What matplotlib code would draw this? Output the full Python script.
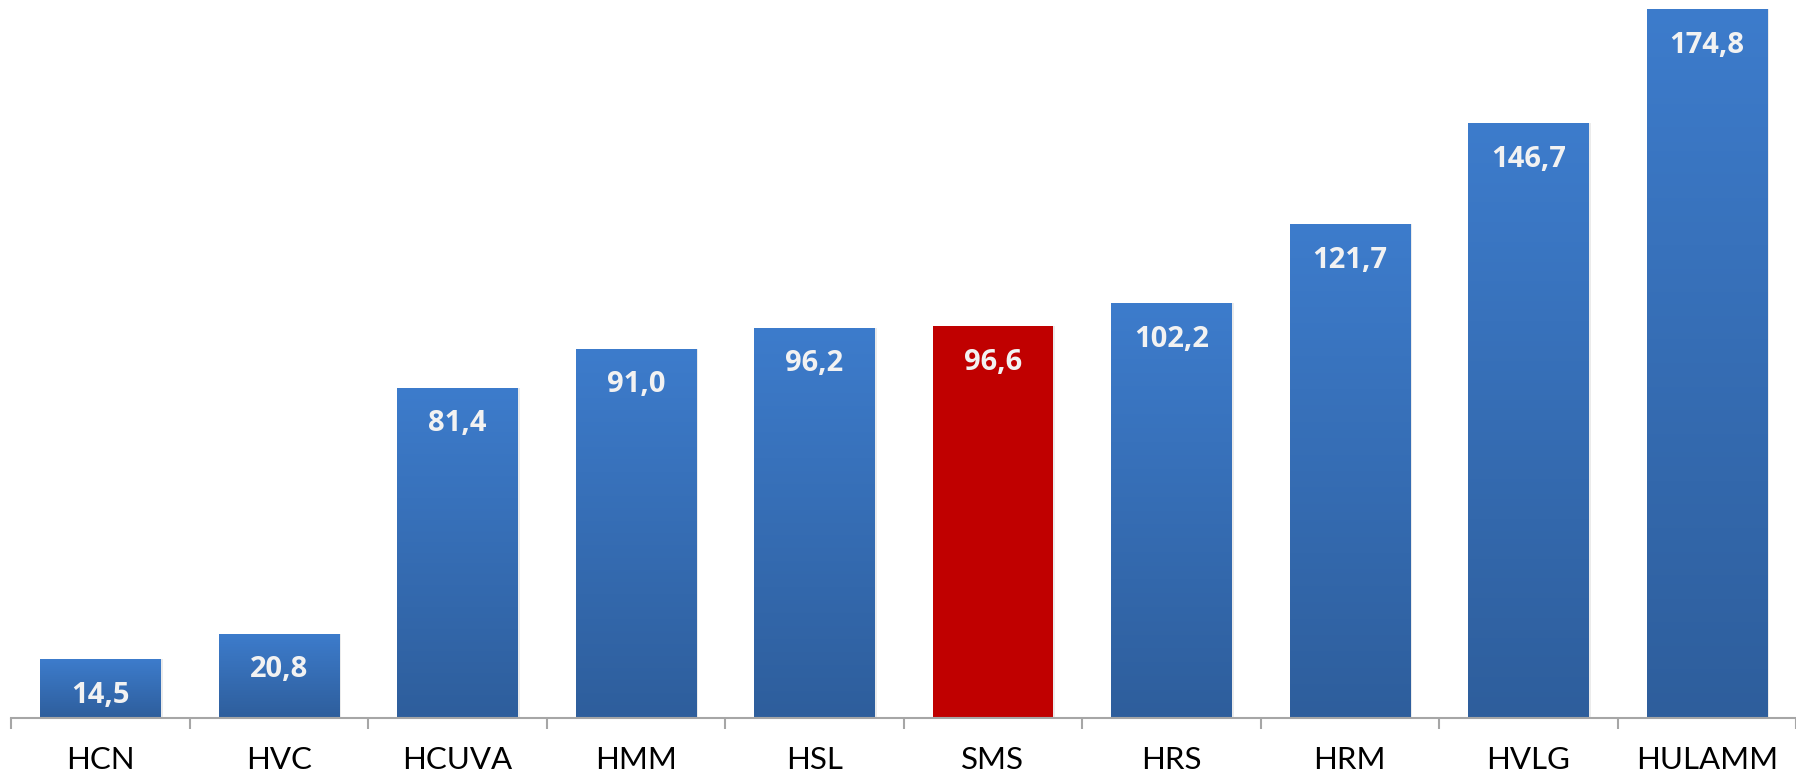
import numpy as np
import matplotlib.pyplot as plt
from matplotlib.colors import LinearSegmentedColormap

categories = ["HCN", "HVC", "HCUVA", "HMM", "HSL", "SMS", "HRS", "HRM", "HVLG", "HULAMM"]
values = [14.5, 20.8, 81.4, 91.0, 96.2, 96.6, 102.2, 121.7, 146.7, 174.8]
highlight = "SMS"

plt.rcParams['font.family'] = ['Lato', 'DejaVu Sans']

fig = plt.figure(figsize=(17.96, 7.79), dpi=100)
ax = fig.add_axes([11 / 1796, 61 / 779, 1 - 11 / 1796, 1 - 61 / 779])

x = np.arange(len(categories))
bar_w = 0.675
bars = ax.bar(x, values, width=bar_w, color="none", edgecolor="none", zorder=2)

ymax = 177.0
ax.set_xlim(-0.5, len(categories) - 0.5)
ax.set_ylim(0, ymax)

blue_grad = LinearSegmentedColormap.from_list("bluegrad", ["#2E5E9C", "#3D7CCC"])
grad = np.linspace(0, 1, 256).reshape(-1, 1)

for rect, cat, val in zip(bars, categories, values):
    x0 = rect.get_x()
    w = rect.get_width()
    # soft drop shadow
    ax.bar(x0 + w / 2 + 0.008, val, width=w + 0.012, color="#000000", alpha=0.08,
           zorder=1, edgecolor="none")
    if cat == highlight:
        ax.bar(x0 + w / 2, val, width=w, color="#C00000", edgecolor="none", zorder=3)
    else:
        im = ax.imshow(grad, cmap=blue_grad, aspect="auto", origin="lower",
                       extent=[x0, x0 + w, 0, val], zorder=3)
        im.set_clip_path(rect)
        rect.set_zorder(3)
    ax.annotate(f"{val:.1f}".replace(".", ","), xy=(x0 + w / 2, val),
                xytext=(0, -26), textcoords="offset points",
                ha="center", va="center", color="#F2F2F2",
                fontsize=21, fontweight="bold", family=["Open Sans", "DejaVu Sans"],
                zorder=5)

ax.set_xlim(-0.5, len(categories) - 0.5)
ax.set_ylim(0, ymax)

for side in ["left", "right", "top"]:
    ax.spines[side].set_visible(False)
ax.spines["bottom"].set_color("#A6A6A6")
ax.spines["bottom"].set_linewidth(1.5)
ax.spines["bottom"].set_zorder(4)

ax.set_yticks([])
ax.set_xticks(x)
ax.set_xticklabels(categories, fontsize=22.5, color="#000000")
ax.tick_params(axis="x", which="major", length=0, pad=20)
ax.set_xticks(np.arange(-0.5, len(categories) + 0.5, 1), minor=True)
ax.tick_params(axis="x", which="minor", length=8, width=1.5, color="#A6A6A6", direction="out")

fig.savefig("out.png", dpi=100)
